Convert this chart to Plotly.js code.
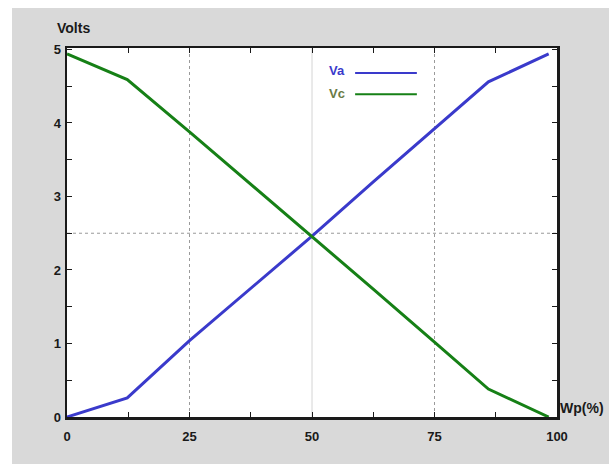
<!DOCTYPE html>
<html>
<head>
<meta charset="utf-8">
<script src="https://cdn.plot.ly/plotly-3.0.1.min.js"></script>
<style>
  html, body { margin: 0; padding: 0; background: #ffffff; width: 612px; height: 464px; overflow: hidden; }
  #chart { position: absolute; left: 12px; top: 8px; width: 597px; height: 456px; }
</style>
</head>
<body>
<div id="chart"></div>
<script>
// Data
const wp = [0, 12.3, 25, 37.5, 50, 62.5, 75, 86, 98.3];
const va = [0, 0.26, 1.04, 1.75, 2.46, 3.2, 3.93, 4.56, 4.94];
const vc = [4.94, 4.59, 3.88, 3.17, 2.45, 1.74, 1.02, 0.38, 0];
const seriesNames = ['Va', 'Vc'];
const xTickVals = [0, 25, 50, 75, 100];
const yTickVals = [0, 1, 2, 3, 4, 5];

const blue = '#3a3acb';
const green = '#168016';
const fontFam = '"Liberation Sans", Arial, sans-serif';

const traces = [
  { x: wp, y: va, name: seriesNames[0], mode: 'lines', line: { color: blue, width: 3 }, showlegend: false },
  { x: wp, y: vc, name: seriesNames[1], mode: 'lines', line: { color: green, width: 3 }, showlegend: false }
];

const layout = {
  width: 597, height: 456,
  margin: { l: 55, r: 52, t: 40, b: 47 },
  paper_bgcolor: '#d9d9d9',
  plot_bgcolor: '#ffffff',
  showlegend: false,
  font: { family: fontFam, size: 13, color: '#1a1a1a' },
  xaxis: {
    range: [0, 100], tickvals: xTickVals, showgrid: false, zeroline: false,
    showline: true, linecolor: '#1a1a1a', linewidth: 2.5, mirror: 'ticks',
    ticks: 'inside', ticklen: 5, tickwidth: 1, tickcolor: '#1a1a1a',
    minor: { dtick: 12.5, ticks: 'inside', ticklen: 5, tickcolor: '#1a1a1a', showgrid: false },
    ticklabelstandoff: 6,
    tickfont: { family: fontFam, size: 13, weight: 'bold', color: '#1a1a1a' }
  },
  yaxis: {
    range: [0, 5.02], tickvals: yTickVals, showgrid: false, zeroline: false,
    showline: true, linecolor: '#1a1a1a', linewidth: 2.5, mirror: 'ticks',
    ticks: 'inside', ticklen: 5, tickwidth: 1, tickcolor: '#1a1a1a',
    minor: { dtick: 0.5, ticks: 'inside', ticklen: 5, tickcolor: '#1a1a1a', showgrid: false },
    ticklabelstandoff: 1,
    tickfont: { family: fontFam, size: 13, weight: 'bold', color: '#1a1a1a' }
  },
  shapes: [
    { type: 'line', xref: 'x', yref: 'paper', x0: 25, x1: 25, y0: 0, y1: 1, layer: 'below', line: { color: '#9a9a9a', width: 1, dash: 'dot' } },
    { type: 'line', xref: 'x', yref: 'paper', x0: 50, x1: 50, y0: 0, y1: 1, layer: 'below', line: { color: '#d4d4d4', width: 1 } },
    { type: 'line', xref: 'x', yref: 'paper', x0: 75, x1: 75, y0: 0, y1: 1, layer: 'below', line: { color: '#9a9a9a', width: 1, dash: 'dot' } },
    { type: 'line', xref: 'paper', yref: 'y', x0: 0, x1: 1, y0: 2.5, y1: 2.5, layer: 'below', line: { color: '#9a9a9a', width: 1, dash: 'dot' } },
    // legend lines
    { type: 'line', xref: 'x', yref: 'y', x0: 58.8, x1: 71.4, y0: 4.68, y1: 4.68, line: { color: blue, width: 2 } },
    { type: 'line', xref: 'x', yref: 'y', x0: 58.8, x1: 71.4, y0: 4.39, y1: 4.39, line: { color: green, width: 2 } }
  ],
  annotations: [
    { text: 'Volts', xref: 'paper', yref: 'paper', x: 0, y: 1, xshift: -12, yshift: 20, xanchor: 'left', yanchor: 'middle', showarrow: false,
      font: { family: fontFam, size: 14, weight: 'bold', color: '#1a1a1a' } },
    { text: 'Wp(%)', xref: 'paper', yref: 'paper', x: 1, y: 0, xshift: 1, yshift: 9, xanchor: 'left', yanchor: 'middle', showarrow: false,
      font: { family: fontFam, size: 14, weight: 'bold', color: '#1a1a1a' } },
    { text: seriesNames[0], xref: 'x', yref: 'y', x: 55.1, y: 4.71, xanchor: 'center', yanchor: 'middle', showarrow: false,
      font: { family: fontFam, size: 13, weight: 'bold', color: '#3a3acb' } },
    { text: seriesNames[1], xref: 'x', yref: 'y', x: 55.1, y: 4.40, xanchor: 'center', yanchor: 'middle', showarrow: false,
      font: { family: fontFam, size: 13, weight: 'bold', color: '#6a7a45' } }
  ]
};

Plotly.newPlot('chart', traces, layout, { displayModeBar: false, staticPlot: true });
</script>
</body>
</html>
